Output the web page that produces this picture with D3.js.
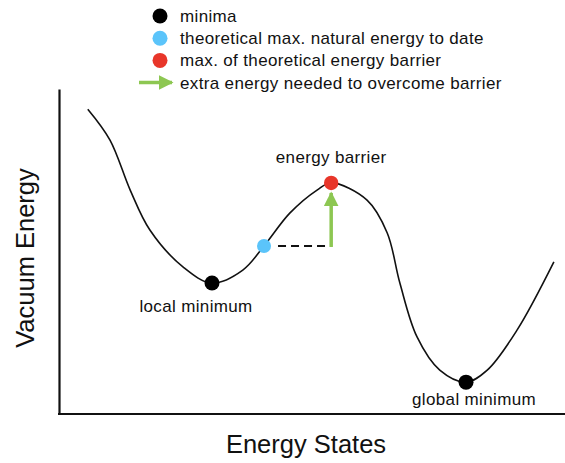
<!DOCTYPE html>
<html>
<head>
<meta charset="utf-8">
<script src="https://cdn.jsdelivr.net/npm/d3@7"></script>
<style>
  html, body { margin: 0; padding: 0; background: #fff; }
  svg { display: block; }
  text { font-family: "Liberation Sans", Arial, Helvetica, sans-serif; fill: #111; }
</style>
</head>
<body>
<svg id="chart" width="565" height="463"></svg>
<script>
// ---- data (state units 0-100, energy units 0-100) ----
const curveX = [5.5, 9.9, 13.9, 17.8, 24.4, 30.1, 36.2, 40.4, 45.5, 50.9, 53.7, 60.8, 64.8, 67.3, 70.7, 75.2, 80.4, 84.6, 90.5, 97.8];
const curveY = [93.8, 84.3, 68.9, 56.6, 45.2, 40.3, 44.3, 51.7, 61.8, 68.9, 71.1, 65.8, 55.7, 40.3, 23.7, 13.5, 9.8, 13.5, 25.8, 46.8];

const minimaX = [30.1, 80.4];
const minimaY = [40.3, 9.8];
const minimaLabels = ["local minimum", "global minimum"];

const naturalX = 40.4;   // theoretical max. natural energy to date
const naturalY = 51.7;
const barrierX = 53.7;   // max. of theoretical energy barrier
const barrierY = 71.1;
const barrierLabel = "energy barrier";

const legendLabels = [
  "minima",
  "theoretical max. natural energy to date",
  "max. of theoretical energy barrier",
  "extra energy needed to overcome barrier"
];
const legendKinds = ["black", "blue", "red", "arrow"];

const xTitle = "Energy States";
const yTitle = "Vacuum Energy";

// ---- drawing ----
const colors = { black: "#000000", blue: "#5bc4fa", red: "#e8362a", green: "#8dc752" };
const svg = d3.select("#chart");

const x = d3.scaleLinear().domain([0, 100]).range([60, 565]);
const y = d3.scaleLinear().domain([0, 100]).range([414, 89]);

svg.append("defs").append("marker")
  .attr("id", "ah")
  .attr("viewBox", "0 0 10 10")
  .attr("refX", 9).attr("refY", 5)
  .attr("markerUnits", "userSpaceOnUse")
  .attr("markerWidth", 15).attr("markerHeight", 15)
  .attr("orient", "auto")
  .append("path")
  .attr("d", "M0,0 L10,5 L0,10 Z")
  .attr("fill", colors.green);

// axes (domain lines only)
const xAxis = svg.append("g").attr("transform", `translate(0,${y(0)})`)
  .call(d3.axisBottom(x).tickValues([]).tickSizeOuter(0));
const yAxis = svg.append("g").attr("transform", `translate(${x(0) - 1},0)`)
  .call(d3.axisLeft(y).tickValues([]).tickSizeOuter(0));
svg.selectAll(".domain").attr("stroke", "#111").attr("stroke-width", 2.2);
xAxis.select(".domain").attr("d", `M${x(0) - 2},0H565`);

// axis titles
svg.append("text")
  .attr("x", 306).attr("y", 453)
  .attr("text-anchor", "middle")
  .style("font-size", "25.5px")
  .text(xTitle);
svg.append("text")
  .attr("transform", `translate(34,258) rotate(-90)`)
  .attr("text-anchor", "middle")
  .style("font-size", "25.5px")
  .text(yTitle);

// curve
const pts = curveX.map((d, i) => [d, curveY[i]]);
svg.append("path")
  .datum(pts)
  .attr("fill", "none")
  .attr("stroke", "#111")
  .attr("stroke-width", 1.6)
  .attr("d", d3.line().x(d => x(d[0])).y(d => y(d[1])).curve(d3.curveCatmullRom.alpha(0.5)));

// dashed line from natural max to barrier x
svg.append("line")
  .attr("x1", x(naturalX) + 14).attr("x2", x(barrierX) - 2)
  .attr("y1", y(naturalY)).attr("y2", y(naturalY))
  .attr("stroke", "#111").attr("stroke-width", 2.2)
  .attr("stroke-dasharray", "8,5");

// green arrow
svg.append("line")
  .attr("x1", x(barrierX)).attr("x2", x(barrierX))
  .attr("y1", y(naturalY) + 1).attr("y2", y(barrierY) + 10)
  .attr("stroke", colors.green).attr("stroke-width", 3.5)
  .attr("marker-end", "url(#ah)");

// points
svg.selectAll("circle.min")
  .data(minimaX.map((d, i) => [d, minimaY[i]]))
  .join("circle")
  .attr("class", "min")
  .attr("cx", d => x(d[0])).attr("cy", d => y(d[1]))
  .attr("r", 7.5).attr("fill", colors.black);
svg.append("circle").attr("cx", x(naturalX)).attr("cy", y(naturalY)).attr("r", 7).attr("fill", colors.blue);
svg.append("circle").attr("cx", x(barrierX)).attr("cy", y(barrierY)).attr("r", 7.2).attr("fill", colors.red);

// point labels
const labelFont = "17px";
const labelSpacing = "0.35px";
svg.selectAll("text.minlab")
  .data(minimaX.map((d, i) => ({ x: d, y: minimaY[i], t: minimaLabels[i] })))
  .join("text")
  .attr("class", "minlab")
  .attr("x", d => x(d.x) - 16 + (d.t === "global minimum" ? 24 : 0))
  .attr("y", d => y(d.y) + 29 - (d.t === "global minimum" ? 6 : 0))
  .attr("text-anchor", "middle")
  .style("font-size", labelFont)
  .style("letter-spacing", labelSpacing)
  .text(d => d.t);
svg.append("text")
  .attr("x", x(barrierX)).attr("y", y(barrierY) - 20)
  .attr("text-anchor", "middle")
  .style("font-size", labelFont)
  .style("letter-spacing", labelSpacing)
  .text(barrierLabel);

// legend
const legend = svg.append("g");
legendLabels.forEach((lab, i) => {
  const cy = 16 + i * 22.2;
  const kind = legendKinds[i];
  if (kind === "arrow") {
    legend.append("line")
      .attr("x1", 139).attr("x2", 172)
      .attr("y1", cy).attr("y2", cy)
      .attr("stroke", colors.green).attr("stroke-width", 3.5)
      .attr("marker-end", "url(#ah)");
  } else {
    legend.append("circle")
      .attr("cx", 160).attr("cy", cy).attr("r", 7.5)
      .attr("fill", colors[kind]);
  }
  legend.append("text")
    .attr("x", 180).attr("y", cy + 6)
    .style("font-size", labelFont)
    .style("letter-spacing", labelSpacing)
    .text(lab);
});
</script>
</body>
</html>
